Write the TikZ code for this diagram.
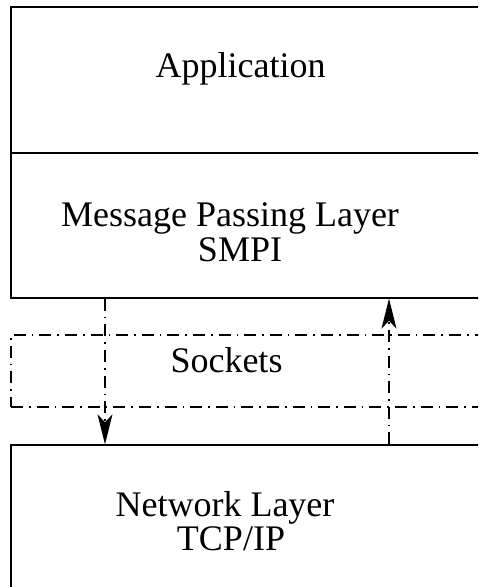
\documentclass[tikz,border=0pt]{standalone}
\usepackage{fontspec}
\setmainfont{Liberation Serif}
\usetikzlibrary{positioning,fit,arrows.meta}

\tikzset{
  layer/.style={draw,line width=0.7pt,inner sep=0pt},
  dashdot/.style={line width=0.55pt,dash pattern=on 6pt off 3pt on 0.8pt off 3pt},
  sockbox/.style={draw,dashdot,inner sep=0pt},
  lbl/.style={anchor=base,inner sep=0pt,font=\fontsize{18}{21}\selectfont},
  flow/.style={dashdot,-{Stealth[length=15pt,width=7.5pt,inset=4pt]}}
}

\begin{document}
\begin{tikzpicture}[x=0.5pt,y=-0.5pt]
  \useasboundingbox (0,0) rectangle (478,587);
  \clip (0,0) rectangle (478,587);
  % layers
  \node[layer,fit={(11,7) (520,153)}] (app) {};
  \node[layer,fit={(11,153) (520,298)}] (mpl) {};
  \node[sockbox,fit={(11,335) (520,407)}] (sock) {};
  \node[layer,fit={(11,445) (520,640)}] (net) {};
  % labels
  \node[lbl] (applbl) at (240.5,78) {Application};
  \node[lbl] (mpllbl) at (230,227) {Message Passing Layer};
  \node[lbl] (smpilbl) at (240,262) {SMPI};
  \node[lbl] (socklbl) at (226.5,372) {Sockets};
  \node[lbl] (netlbl) at (225,516) {Network Layer};
  \node[lbl] (tcplbl) at (231,550) {TCP/IP};
  % send and receive paths
  \coordinate (down) at (105,0);
  \coordinate (up) at (389,0);
  \draw[flow] (mpl.south -| down) -- (net.north -| down);
  \draw[flow] (net.north -| up) -- (mpl.south -| up);
\end{tikzpicture}
\end{document}
